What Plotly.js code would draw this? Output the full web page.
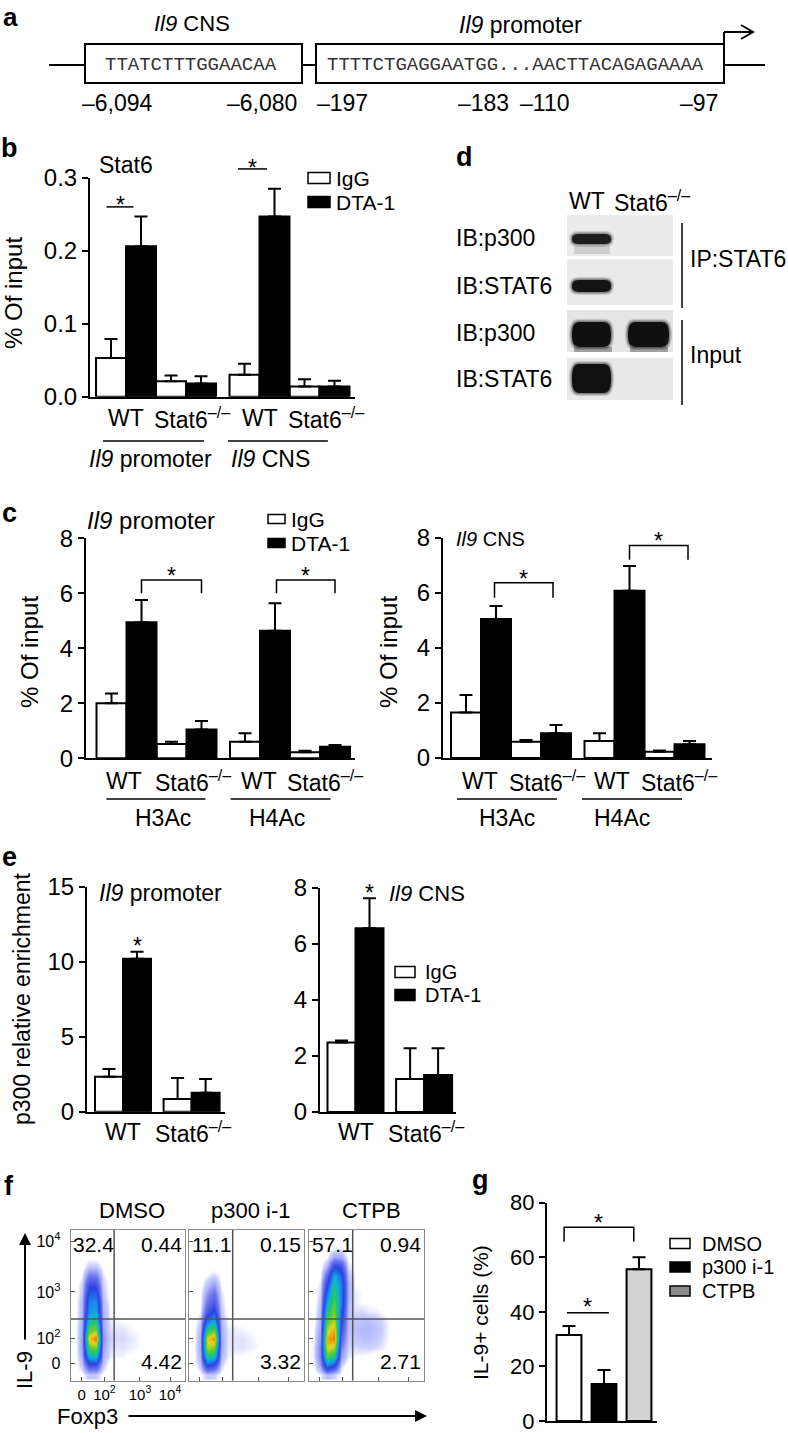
<!DOCTYPE html>
<html>
<head>
<meta charset="utf-8">
<script src="https://cdn.plot.ly/plotly-3.0.1.min.js"></script>
<style>html,body{margin:0;padding:0;background:#fff}#chart{width:788px;height:1433px}</style>
</head>
<body>
<div id="chart"></div>
<script>
// ===================== DATA =====================
// panel a
const cnsSeq = 'TTATCTTTGGAACAA';
const promSeq = 'TTTTCTGAGGAATGG...AACTTACAGAGAAAA';
const aPositions = ['–6,094', '–6,080', '–197', '–183', '–110', '–97'];
const aRegions = ['<i>Il9</i> CNS', '<i>Il9</i> promoter'];

// shared labels
const genotypes = ['WT', 'Stat6<sup>–/–</sup>'];
const treatments = ['IgG', 'DTA-1'];

// panel b: Stat6 ChIP (% of input); order: WT prom, Stat6-/- prom, WT CNS, Stat6-/- CNS
const bLoci = ['<i>Il9</i> promoter', '<i>Il9</i> CNS'];
const bIgG = [0.053, 0.021, 0.030, 0.014];
const bIgGErr = [0.026, 0.008, 0.015, 0.010];
const bDTA = [0.206, 0.018, 0.247, 0.014];
const bDTAErr = [0.041, 0.010, 0.038, 0.008];
const bTicks = [0, 0.1, 0.2, 0.3];
const bTickText = ['0.0', '0.1', '0.2', '0.3'];

// panel c: histone acetylation (% of input); order: WT H3, Stat6 H3, WT H4, Stat6 H4
const cMarks = ['H3Ac', 'H4Ac'];
const cPromIgG = [2.0, 0.52, 0.60, 0.22];
const cPromIgGErr = [0.36, 0.08, 0.31, 0.05];
const cPromDTA = [4.95, 1.05, 4.64, 0.42];
const cPromDTAErr = [0.81, 0.31, 1.0, 0.06];
const cCnsIgG = [1.65, 0.59, 0.62, 0.23];
const cCnsIgGErr = [0.64, 0.06, 0.28, 0.04];
const cCnsDTA = [5.05, 0.90, 6.07, 0.50];
const cCnsDTAErr = [0.47, 0.30, 0.90, 0.12];
const cTicks = [0, 2, 4, 6, 8];

// panel d: western blot
const dLanes = ['WT', 'Stat6<sup>–/–</sup>'];
const dRows = ['IB:p300', 'IB:STAT6', 'IB:p300', 'IB:STAT6'];
const dBlocks = ['IP:STAT6', 'Input'];
const dBandIntensity = [[0.9, 0], [0.97, 0], [1, 1], [1, 0]];

// panel e: p300 relative enrichment; order: WT, Stat6-/-
const ePromIgG = [2.33, 0.85];
const ePromIgGErr = [0.52, 1.40];
const ePromDTA = [10.2, 1.27];
const ePromDTAErr = [0.47, 0.91];
const eCnsIgG = [2.48, 1.18];
const eCnsIgGErr = [0.07, 1.10];
const eCnsDTA = [6.56, 1.32];
const eCnsDTAErr = [1.07, 0.96];
const ePromTicks = [0, 5, 10, 15];
const eCnsTicks = [0, 2, 4, 6, 8];

// panel f: flow cytometry (density, channel units 0-100)
const fConditions = ['DMSO', 'p300 i-1', 'CTPB'];
const fQuadrants = [['32.4', '0.44', '4.42'], ['11.1', '0.15', '3.32'], ['57.1', '0.94', '2.71']];
const fTickX = ['0', '10<sup>2</sup>', '10<sup>3</sup>', '10<sup>4</sup>'];
const fTickY = ['0', '10<sup>2</sup>', '10<sup>3</sup>', '10<sup>4</sup>'];
const fGateX = 38;
const fGateY = 41;
const fGridX = [4, 10, 16, 22, 28, 34, 40, 46, 52, 58, 64, 70, 76];
const fGridY = [4, 10, 16, 22, 28, 34, 40, 46, 52, 58, 64, 70, 76, 82, 88];
const fDensityDMSO = [
  [0, 0.1, 0.5, 0.5, 0.1, 0, 0, 0, 0, 0, 0, 0, 0],
  [0, 0.5, 2.4, 2.4, 0.5, 0, 0, 0, 0, 0, 0, 0, 0],
  [0, 0.8, 5, 5.5, 0.8, 0.25, 0.2, 0.2, 0.1, 0.1, 0, 0, 0],
  [0, 1, 7, 7.5, 1, 0.35, 0.3, 0.3, 0.25, 0.2, 0.1, 0, 0],
  [0, 1, 8.6, 9.6, 1.2, 0.4, 0.35, 0.35, 0.3, 0.2, 0.1, 0, 0],
  [0, 0.9, 7, 7.5, 1, 0.35, 0.3, 0.3, 0.2, 0.15, 0.1, 0, 0],
  [0, 0.8, 5.5, 6, 0.9, 0.25, 0.2, 0.15, 0.1, 0.1, 0, 0, 0],
  [0, 0.7, 4.5, 5, 0.8, 0.2, 0.1, 0.1, 0.1, 0, 0, 0, 0],
  [0, 0.7, 4, 4.5, 0.7, 0.15, 0.1, 0.1, 0, 0, 0, 0, 0],
  [0, 0.5, 3.5, 3.5, 0.5, 0.1, 0.1, 0, 0, 0, 0, 0, 0],
  [0, 0.4, 2.6, 2.6, 0.4, 0.1, 0, 0, 0, 0, 0, 0, 0],
  [0, 0.2, 1.5, 1.5, 0.3, 0, 0, 0, 0, 0, 0, 0, 0],
  [0, 0, 0.5, 0.5, 0.1, 0, 0, 0, 0, 0, 0, 0, 0],
  [0, 0, 0.1, 0.1, 0, 0, 0, 0, 0, 0, 0, 0, 0],
  [0, 0, 0, 0, 0, 0, 0, 0, 0, 0, 0, 0, 0]
];
const fDensityP300 = [
  [0, 0.1, 0.5, 0.4, 0.1, 0, 0, 0, 0, 0, 0, 0, 0],
  [0, 0.5, 3, 2.5, 0.4, 0, 0, 0, 0, 0, 0, 0, 0],
  [0, 0.8, 6, 5.5, 0.7, 0.2, 0.15, 0.15, 0.1, 0, 0, 0, 0],
  [0, 0.9, 8, 7.5, 0.9, 0.25, 0.3, 0.3, 0.25, 0.2, 0.1, 0, 0],
  [0, 0.8, 8.5, 9.3, 0.9, 0.25, 0.3, 0.3, 0.25, 0.15, 0.1, 0, 0],
  [0, 0.7, 6, 7, 0.8, 0.25, 0.25, 0.2, 0.15, 0.1, 0, 0, 0],
  [0, 0.4, 3.8, 4.8, 0.7, 0.15, 0.1, 0.1, 0, 0, 0, 0, 0],
  [0, 0.2, 2.3, 3.2, 0.5, 0, 0, 0, 0, 0, 0, 0, 0],
  [0, 0.1, 1.6, 2.3, 0.4, 0, 0, 0, 0, 0, 0, 0, 0],
  [0, 0.1, 1.1, 1.7, 0.3, 0, 0, 0, 0, 0, 0, 0, 0],
  [0, 0, 0.6, 1, 0.15, 0, 0, 0, 0, 0, 0, 0, 0],
  [0, 0, 0.2, 0.4, 0.1, 0, 0, 0, 0, 0, 0, 0, 0],
  [0, 0, 0, 0, 0, 0, 0, 0, 0, 0, 0, 0, 0],
  [0, 0, 0, 0, 0, 0, 0, 0, 0, 0, 0, 0, 0],
  [0, 0, 0, 0, 0, 0, 0, 0, 0, 0, 0, 0, 0]
];
const fDensityCTPB = [
  [0, 0.2, 0.7, 0.4, 0.1, 0, 0, 0, 0, 0, 0, 0, 0],
  [0.1, 1, 4, 3, 0.4, 0, 0, 0, 0, 0, 0, 0, 0],
  [0.2, 1.4, 7, 6, 1, 0.25, 0.15, 0.15, 0.1, 0, 0, 0, 0],
  [0.2, 1.4, 8.5, 8, 1.4, 0.4, 0.35, 0.4, 0.4, 0.35, 0.25, 0.1, 0],
  [0.1, 1.2, 9, 9.5, 2, 0.5, 0.5, 0.6, 0.6, 0.5, 0.35, 0.15, 0],
  [0.1, 1, 8, 9, 2.5, 0.6, 0.6, 0.7, 0.7, 0.6, 0.4, 0.15, 0],
  [0, 0.8, 7, 8, 3, 0.6, 0.5, 0.6, 0.6, 0.5, 0.35, 0.15, 0],
  [0, 0.7, 6, 7.5, 3.5, 0.6, 0.35, 0.35, 0.25, 0.25, 0.15, 0.1, 0],
  [0, 0.5, 5, 7, 4, 0.7, 0.25, 0.15, 0.15, 0.1, 0, 0, 0],
  [0, 0.4, 4, 6.5, 4, 0.8, 0.25, 0.15, 0.1, 0.1, 0, 0, 0],
  [0, 0.3, 3, 6, 4, 0.8, 0.15, 0.1, 0.1, 0, 0, 0, 0],
  [0, 0.1, 2, 5, 3.5, 0.6, 0.15, 0.1, 0, 0, 0, 0, 0],
  [0, 0, 0.8, 3, 2.5, 0.3, 0.1, 0, 0, 0, 0, 0, 0],
  [0, 0, 0.2, 1, 0.9, 0.1, 0, 0, 0, 0, 0, 0, 0],
  [0, 0, 0, 0.2, 0.2, 0, 0, 0, 0, 0, 0, 0, 0]
];

// panel g: IL-9+ cells (%)
const gConditions = ['DMSO', 'p300 i-1', 'CTPB'];
const gValues = [31.5, 13.6, 55.6];
const gErr = [3.3, 5.1, 4.4];
const gTicks = [0, 20, 40, 60, 80];

// ===================== LAYOUT HELPERS =====================
const W = 788, H = 1433;
const FONT = '"Liberation Sans", Arial, Helvetica, sans-serif';
const MONO = '"Liberation Mono", "Courier New", monospace';
const TICK = 24, LAB = 23;
const PX = v => v / W;
const PY = v => 1 - v / H;
const shapes = [], annotations = [], traces = [];
const layout = {
  width: W, height: H, margin: {l: 0, r: 0, t: 0, b: 0, pad: 0},
  paper_bgcolor: '#ffffff', plot_bgcolor: 'rgba(0,0,0,0)',
  showlegend: false, barmode: 'overlay',
  font: {family: FONT, size: 22, color: '#000'},
  shapes: shapes, annotations: annotations
};

function text(x, y, t, o) {
  o = Object.assign({}, o || {});
  const f = Object.assign({family: FONT, size: 22, color: '#000'}, o.font || {});
  delete o.font;
  annotations.push(Object.assign({xref: 'paper', yref: 'paper', x: PX(x), y: PY(y), text: t,
    showarrow: false, xanchor: 'center', yanchor: 'middle', font: f}, o));
}
function pline(x0, y0, x1, y1, w, c) {
  shapes.push({type: 'line', xref: 'paper', yref: 'paper', x0: PX(x0), y0: PY(y0), x1: PX(x1), y1: PY(y1),
    line: {color: c || '#000', width: w || 2}});
}
function prect(x0, y0, x1, y1, fill, lw, lc, op) {
  shapes.push({type: 'rect', xref: 'paper', yref: 'paper', x0: PX(x0), y0: PY(y0), x1: PX(x1), y1: PY(y1),
    fillcolor: fill, opacity: op == null ? 1 : op, line: {color: lc || '#000', width: lw == null ? 2 : lw}});
}
function rrPath(x0, y0, x1, y1, rx, ry) {
  const P = (x, y) => PX(x) + ',' + PY(y);
  return 'M' + P(x0 + rx, y0) + ' L' + P(x1 - rx, y0) + ' Q' + P(x1, y0) + ' ' + P(x1, y0 + ry) +
    ' L' + P(x1, y1 - ry) + ' Q' + P(x1, y1) + ' ' + P(x1 - rx, y1) +
    ' L' + P(x0 + rx, y1) + ' Q' + P(x0, y1) + ' ' + P(x0, y1 - ry) +
    ' L' + P(x0, y0 + ry) + ' Q' + P(x0, y0) + ' ' + P(x0 + rx, y0) + ' Z';
}
function band(x0, y0, x1, y1, a) {
  const h = y1 - y0;
  shapes.push({type: 'path', xref: 'paper', yref: 'paper', path: rrPath(x0 - 3, y0 - 3, x1 + 3, y1 + 3, 9, (h + 6) / 2), fillcolor: '#000', opacity: 0.15 * a, line: {width: 0}});
  shapes.push({type: 'path', xref: 'paper', yref: 'paper', path: rrPath(x0 - 1.5, y0 - 1.5, x1 + 1.5, y1 + 1.5, 8, (h + 3) / 2), fillcolor: '#000', opacity: 0.35 * a, line: {width: 0}});
  shapes.push({type: 'path', xref: 'paper', yref: 'paper', path: rrPath(x0, y0, x1, y1, 7, h / 2.2), fillcolor: '#0b0b0b', opacity: 0.95 * a, line: {width: 0}});
}

const AX = {};
function axName(n) { return n === 1 ? '' : String(n); }
function barPanel(n, g, tickvals, ticktext, tsize) {
  const s = axName(n);
  layout['xaxis' + s] = {domain: [PX(g.xL), PX(g.xR)], range: [(g.xL - g.c0) / g.sw, (g.xR - g.c0) / g.sw],
    anchor: 'y' + s, showline: true, linewidth: 2, linecolor: '#000', ticks: '', showticklabels: false,
    showgrid: false, zeroline: false, fixedrange: true};
  layout['yaxis' + s] = {domain: [PY(g.yB), PY(g.yT)], range: [0, g.yMax], anchor: 'x' + s,
    showline: true, linewidth: 2, linecolor: '#000', ticks: 'outside', ticklen: 6, tickwidth: 2, tickcolor: '#000',
    tickvals: tickvals, ticktext: ticktext || tickvals.map(String), tickfont: {size: tsize || TICK},
    ticklabeloverflow: 'allow', showgrid: false, zeroline: false, fixedrange: true};
  AX[n] = {x: 'x' + s, y: 'y' + s, g: g};
}
function YP(n, v) { const g = AX[n].g; return PY(g.yB) + (v / g.yMax) * (PY(g.yT) - PY(g.yB)); }
function bars(n, xs, ys, errs, fill, w) {
  traces.push({type: 'bar', xaxis: AX[n].x, yaxis: AX[n].y, x: xs, y: ys, width: xs.map(() => w || 1),
    marker: {color: fill, line: {color: '#000', width: 2}},
    error_y: {type: 'data', symmetric: false, array: errs, arrayminus: errs.map(() => 0),
      color: '#000', thickness: 2, width: 6.5},
    hoverinfo: 'skip'});
}
function star(n, x, v, dpx) {
  annotations.push({xref: AX[n].x, yref: 'paper', x: x, y: YP(n, v) + (dpx - 6) / H, text: '*', showarrow: false,
    xanchor: 'center', yanchor: 'middle', font: {family: FONT, size: 23, color: '#000'}});
}
function sigLine(n, x0, x1, v, dpx) {
  shapes.push({type: 'line', xref: AX[n].x, yref: 'paper', x0: x0, x1: x1, y0: YP(n, v), y1: YP(n, v), line: {color: '#000', width: 1.5}});
  star(n, (x0 + x1) / 2, v, dpx);
}
function bracket(n, x0, x1, vTop, vLeg, dpx) {
  const yt = YP(n, vTop), yl = YP(n, vLeg);
  shapes.push({type: 'path', xref: AX[n].x, yref: 'paper', path: 'M' + x0 + ',' + yl + ' L' + x0 + ',' + yt + ' L' + x1 + ',' + yt + ' L' + x1 + ',' + yl,
    line: {color: '#000', width: 1.5}});
  star(n, (x0 + x1) / 2, vTop, dpx);
}
function under(n, x, ypx, t, size) {
  annotations.push({xref: AX[n].x, yref: 'paper', x: x, y: PY(ypx), text: t, showarrow: false,
    xanchor: 'center', yanchor: 'middle', font: {family: FONT, size: size || LAB, color: '#000'}});
}
function underline(n, x0, x1, ypx) {
  shapes.push({type: 'line', xref: AX[n].x, yref: 'paper', x0: x0, x1: x1, y0: PY(ypx), y1: PY(ypx), line: {color: '#000', width: 1.5}});
}
function legendItem(x0, x1, yc, h, fill, label, tx, size) {
  prect(x0, yc - h / 2, x1, yc + h / 2, fill, 1.5, '#000');
  text(tx, yc, label, {xanchor: 'left', font: {size: size || 21}});
}

// group slot positions: 2 loci x 2 genotypes, each with IgG/DTA adjacent
const slot4 = k => [0, 1, 2, 3].map(i => Math.floor(i / 2) * 4.45 + (i % 2) * 2 + k);
const slot2 = k => [0, 1].map(i => i * 2.45 + k);

// ===================== PANEL a =====================
text(10, 0, '<b>a</b>', {yanchor: 'top', font: {size: 26}});
text(192, 23, aRegions[0], {font: {size: 22}});
text(520, 25, aRegions[1], {font: {size: 23}});
pline(49, 65, 85, 65); pline(302, 65, 316, 65); pline(724, 65, 765, 65);
prect(85, 44, 302, 83, '#fff', 2); prect(316, 44, 724, 83, '#fff', 2);
pline(724, 45, 724, 32); pline(724, 32, 752, 32);
shapes.push({type: 'path', xref: 'paper', yref: 'paper', path: 'M' + PX(741) + ',' + PY(25) + ' L' + PX(753) + ',' + PY(32) + ' L' + PX(741) + ',' + PY(39), line: {width: 2, color: '#000'}});
text(191, 65, cnsSeq, {font: {family: MONO, size: 19, color: '#333'}});
text(515, 65, promSeq, {font: {family: MONO, size: 19, color: '#333'}});
[117, 262, 342, 483, 544, 699].forEach((x, i) => text(x, 103, aPositions[i], {font: {size: 23}}));

// ===================== PANEL b =====================
text(9, 148, '<b>b</b>', {font: {size: 27}});
barPanel(1, {xL: 90, xR: 355, c0: 111, sw: 30, yT: 177.7, yB: 396.7, yMax: 0.3}, bTicks, bTickText, TICK);
bars(1, slot4(0), bIgG, bIgGErr, '#ffffff');
bars(1, slot4(1), bDTA, bDTAErr, '#000000');
text(97, 165, 'Stat6', {xanchor: 'left', font: {size: 23}});
text(13, 293, '% Of input', {textangle: -90, font: {size: 24}});
sigLine(1, -0.15, 0.75, 0.26, 8);
sigLine(1, 4.23, 5.2, 0.312, 7);
legendItem(308, 330, 178, 11, '#ffffff', treatments[0], 334, 21);
legendItem(308, 330, 202, 11, '#000000', treatments[1], 334, 21);
[0.5, 2.7, 4.95, 7.15].forEach((x, i) => under(1, x, 418, genotypes[i % 2]));
underline(1, -0.27, 3.1, 441); underline(1, 3.9, 7.23, 441);
under(1, 1.33, 459, bLoci[0]); under(1, 5.3, 459, bLoci[1]);

// ===================== PANEL d =====================
text(464, 157, '<b>d</b>', {font: {size: 27}});
text(587, 201, dLanes[0], {font: {size: 23}});
text(612, 201, dLanes[1], {xanchor: 'left', font: {size: 23}});
const dRowY = [[215, 256], [259, 305], [310, 352], [358, 400]];
const dRowFill = ['#ebebeb', '#eaeaea', '#e5e5e5', '#e8e8e8'];
const dBandY = [[234, 244], [280, 292], [322, 347], [364, 393]];
const dLaneX = [[572, 611], [628, 669]];
dRowY.forEach((r, i) => prect(567, r[0], 673, r[1], dRowFill[i], 0));
dBandIntensity.forEach((row, i) => row.forEach((a, j) => { if (a > 0) band(dLaneX[j][0], dBandY[i][0], dLaneX[j][1], dBandY[i][1], a); }));
prect(574, 246, 610, 254, '#000', 0, '#000', 0.12);
prect(574, 347, 612, 352, '#000', 0, '#000', 0.3);
prect(630, 347, 668, 352, '#000', 0, '#000', 0.3);
[238, 286, 333, 379].forEach((y, i) => text(454, y, dRows[i], {xanchor: 'left', font: {size: 23}}));
pline(682, 223, 682, 308, 1.5); pline(682, 320, 682, 405, 1.5);
text(688, 259, dBlocks[0], {xanchor: 'left', font: {size: 23}});
text(688, 355, dBlocks[1], {xanchor: 'left', font: {size: 23}});

// ===================== PANEL c =====================
text(9, 513, '<b>c</b>', {font: {size: 27}});
barPanel(2, {xL: 86, xR: 355, c0: 111.5, sw: 30, yT: 538.3, yB: 758.3, yMax: 8}, cTicks, null, TICK);
bars(2, slot4(0), cPromIgG, cPromIgGErr, '#ffffff');
bars(2, slot4(1), cPromDTA, cPromDTAErr, '#000000');
barPanel(3, {xL: 443, xR: 712, c0: 466, sw: 30, yT: 537.7, yB: 758, yMax: 8}, cTicks, null, TICK);
bars(3, slot4(0), cCnsIgG, cCnsIgGErr, '#ffffff');
bars(3, slot4(1), cCnsDTA, cCnsDTAErr, '#000000');
text(151, 520, bLoci[0], {font: {size: 24}});
text(490, 539, bLoci[1], {font: {size: 20}});
text(29, 652, '% Of input', {textangle: -90, font: {size: 24}});
text(388, 652, '% Of input', {textangle: -90, font: {size: 24}});
legendItem(268, 285, 519, 9, '#ffffff', treatments[0], 289, 21);
legendItem(268, 285, 543, 9, '#000000', treatments[1], 289, 21);
bracket(2, 1, 3, 6.48, 6.0, 10);
bracket(2, 5.5, 7.45, 6.48, 6.0, 10);
bracket(3, 0.95, 2.9, 6.36, 5.82, 10);
bracket(3, 5.45, 7.4, 7.72, 7.2, 10);
[0.4, 2.7, 4.9, 7.1].forEach((x, i) => under(2, x, 781, genotypes[i % 2]));
[0.45, 2.7, 4.85, 7.1].forEach((x, i) => under(3, x, 781, genotypes[i % 2]));
underline(2, -0.17, 3.13, 799); underline(2, 3.97, 7.3, 799);
underline(3, -0.3, 3.03, 799); underline(3, 3.87, 7.2, 799);
under(2, 1.7, 818, cMarks[0]); under(2, 5.53, 818, cMarks[1]);
under(3, 1.37, 818, cMarks[0]); under(3, 5.2, 818, cMarks[1]);

// ===================== PANEL e =====================
text(9, 857, '<b>e</b>', {font: {size: 27}});
barPanel(4, {xL: 87, xR: 225, c0: 109, sw: 28, yT: 886.7, yB: 1111.7, yMax: 15}, ePromTicks, null, TICK);
bars(4, slot2(0), ePromIgG, ePromIgGErr, '#ffffff');
bars(4, slot2(1), ePromDTA, ePromDTAErr, '#000000');
barPanel(5, {xL: 320, xR: 456, c0: 341.5, sw: 28, yT: 888, yB: 1112, yMax: 8}, eCnsTicks, null, TICK);
bars(5, slot2(0), eCnsIgG, eCnsIgGErr, '#ffffff');
bars(5, slot2(1), eCnsDTA, eCnsDTAErr, '#000000');
text(160, 893, bLoci[0], {font: {size: 23}});
text(427, 893, bLoci[1], {font: {size: 22}});
text(22, 999, 'p300 relative enrichment', {textangle: -90, font: {size: 23}});
star(4, 1, ePromDTA[0] + ePromDTAErr[0], 12);
star(5, 1, eCnsDTA[0] + eCnsDTAErr[0], 11);
legendItem(395, 415, 972, 11, '#ffffff', treatments[0], 423, 20);
legendItem(395, 415, 995, 11, '#000000', treatments[1], 423, 20);
[0.5, 3.0].forEach((x, i) => under(4, x, 1132, genotypes[i]));
[0.5, 3.0].forEach((x, i) => under(5, x, 1132, genotypes[i]));

// ===================== PANEL f =====================
text(9, 1186, '<b>f</b>', {font: {size: 27}});
const fBoxes = [[70.7, 185], [189, 304], [309, 424]];
const fBoxY = [1230, 1380.7];
const fDensity = [fDensityDMSO, fDensityP300, fDensityCTPB];
const fScale = [[0, '#ffffff'], [0.015, '#ffffff'], [0.04, '#cdd1ff'], [0.15, '#7078f0'], [0.3, '#2a40e0'],
  [0.42, '#1a86ec'], [0.52, '#10b4d8'], [0.62, '#22c46a'], [0.74, '#70d02c'], [0.84, '#e4d81c'],
  [0.93, '#f08a10'], [1, '#e0200c']];
fConditions.forEach((name, i) => {
  const s = String(6 + i);
  layout['xaxis' + s] = {domain: [PX(fBoxes[i][0]), PX(fBoxes[i][1])], range: [0, 100], anchor: 'y' + s,
    showline: true, mirror: true, linecolor: '#8a8a8a', linewidth: 1, ticks: 'inside', ticklen: 4, tickwidth: 1, tickcolor: '#555',
    tickvals: [9.5, 29.5, 60.6, 86.9], ticktext: fTickX, showticklabels: i === 0, tickangle: 0, tickfont: {size: 15},
    ticklabelstandoff: 0, showgrid: false, zeroline: false, fixedrange: true};
  layout['yaxis' + s] = {domain: [PY(fBoxY[1]), PY(fBoxY[0])], range: [0, 100], anchor: 'x' + s,
    showline: true, mirror: true, linecolor: '#8a8a8a', linewidth: 1, ticks: 'inside', ticklen: 4, tickwidth: 1, tickcolor: '#555',
    tickvals: [11.7, 28.3, 58.9, 92.7], ticktext: fTickY, showticklabels: i === 0, tickangle: 0, tickfont: {size: 16},
    ticklabelstandoff: 6, showgrid: false, zeroline: false, fixedrange: true};
  traces.push({type: 'heatmap', xaxis: 'x' + s, yaxis: 'y' + s, x: fGridX, y: fGridY, z: fDensity[i],
    zmin: 0, zmax: 10, zsmooth: 'best', colorscale: fScale, showscale: false, hoverinfo: 'skip'});
  shapes.push({type: 'line', xref: 'x' + s, yref: 'y' + s, x0: fGateX, x1: fGateX, y0: 0, y1: 100, line: {color: '#555', width: 1.5}});
  shapes.push({type: 'line', xref: 'x' + s, yref: 'y' + s, x0: 0, x1: 100, y0: fGateY, y1: fGateY, line: {color: '#555', width: 1.5}});
  const q = fQuadrants[i];
  annotations.push({xref: 'x' + s, yref: 'y' + s, x: 0.5, y: 90.5, text: q[0], showarrow: false, xanchor: 'left', yanchor: 'middle', font: {family: FONT, size: 21}});
  annotations.push({xref: 'x' + s, yref: 'y' + s, x: 99.5, y: 90.5, text: q[1], showarrow: false, xanchor: 'right', yanchor: 'middle', font: {family: FONT, size: 21}});
  annotations.push({xref: 'x' + s, yref: 'y' + s, x: 99.5, y: 12.6, text: q[2], showarrow: false, xanchor: 'right', yanchor: 'middle', font: {family: FONT, size: 21}});
  annotations.push({xref: 'x' + s, yref: 'paper', x: 54, y: PY(1210), text: name, showarrow: false, xanchor: 'center', yanchor: 'middle', font: {family: FONT, size: 22}});
});
annotations.push({xref: 'paper', yref: 'paper', x: PX(25), y: PY(1233), text: '', showarrow: true, arrowhead: 2, arrowsize: 1.2, arrowwidth: 2, arrowcolor: '#000', ax: 0, ay: 108});
text(24, 1370, 'IL-9', {textangle: -90, font: {size: 22}});
text(87, 1416, 'Foxp3', {font: {size: 22}});
annotations.push({xref: 'paper', yref: 'paper', x: PX(427), y: PY(1416), text: '', showarrow: true, arrowhead: 2, arrowsize: 1.2, arrowwidth: 2, arrowcolor: '#000', ax: -300, ay: 0});

// ===================== PANEL g =====================
text(480, 1180, '<b>g</b>', {font: {size: 27}});
barPanel(9, {xL: 547, xR: 657, c0: 569, sw: 35, yT: 1202.7, yB: 1421, yMax: 80}, gTicks, null, 22);
bars(9, [0, 1, 2], gValues, gErr, ['#ffffff', '#000000', '#d3d3d3'], 0.71);
text(480, 1313, 'IL-9+ cells (%)', {textangle: -90, font: {size: 21}});
bracket(9, -0.14, 1.85, 71, 65.7, 10);
sigLine(9, -0.06, 1.14, 39.7, 12);
const gLegendFill = ['#ffffff', '#000000', '#8c8c8c'];
[1243.5, 1267, 1291].forEach((y, i) => legendItem(670, 690, y, 10, gLegendFill[i], gConditions[i], 700, 20));

Plotly.newPlot('chart', traces, layout, {staticPlot: true, displayModeBar: false});
</script>
</body>
</html>
